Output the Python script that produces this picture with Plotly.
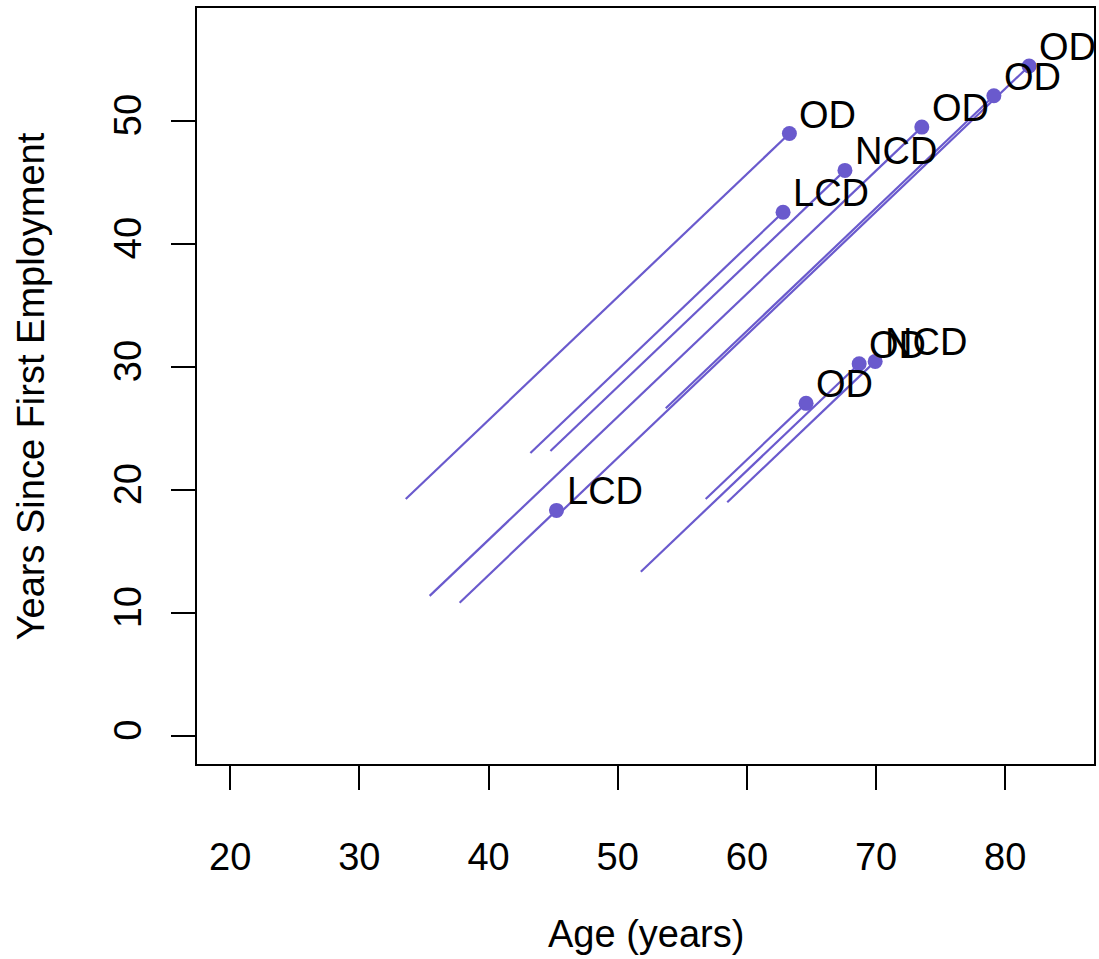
import plotly.graph_objects as go

# Follow-up segments (Lexis diagram): entry age, entry time, duration, exit status
entry_age = [33.59, 43.24, 44.79, 35.44, 37.76, 45.30, 53.72, 56.81, 51.79, 58.48]
entry_time = [19.26, 23.00, 23.16, 11.38, 10.83, 17.90, 26.63, 19.26, 13.35, 18.99]
duration = [29.70, 19.56, 22.80, 38.10, 7.50, 36.55, 25.40, 7.77, 16.90, 11.45]
status = ["OD", "LCD", "NCD", "OD", "LCD", "OD", "OD", "OD", "OD", "NCD"]

x_ticks = [20, 30, 40, 50, 60, 70, 80]
y_ticks = [0, 10, 20, 30, 40, 50]

COL = "#6A5ACD"
FONT = "Liberation Sans, Arial, Helvetica, sans-serif"
FS = 38

exit_age = [a + d for a, d in zip(entry_age, duration)]
exit_time = [t + d for t, d in zip(entry_time, duration)]

lx, ly = [], []
for a0, t0, a1, t1 in zip(entry_age, entry_time, exit_age, exit_time):
    lx += [a0, a1, None]
    ly += [t0, t1, None]

fig = go.Figure()
fig.add_trace(go.Scatter(x=lx, y=ly, mode="lines",
                         line=dict(color=COL, width=2.2), hoverinfo="skip"))
fig.add_trace(go.Scatter(x=exit_age, y=exit_time, mode="markers",
                         marker=dict(color=COL, size=15, line=dict(width=0))))

for a, t, s in zip(exit_age, exit_time, status):
    fig.add_annotation(x=a, y=t, text=s, showarrow=False, xanchor="left",
                       yanchor="middle", xshift=8, yshift=19,
                       font=dict(family=FONT, size=FS, color="black"))

fig.add_annotation(xref="paper", yref="paper", x=0.5, y=-0.225, text="Age (years)",
                   showarrow=False, xanchor="center", yanchor="middle",
                   font=dict(family=FONT, size=FS, color="black"))
fig.add_annotation(xref="paper", yref="paper", x=-0.1847, y=0.5,
                   text="Years Since First Employment", textangle=-90,
                   showarrow=False, xanchor="center", yanchor="middle",
                   font=dict(family=FONT, size=FS, color="black"))

axis_common = dict(showgrid=False, zeroline=False, showline=True, mirror=True,
                   linecolor="black", linewidth=2, ticks="outside", ticklen=24,
                   tickwidth=2, tickcolor="black",
                   tickfont=dict(family=FONT, size=FS, color="black"))

fig.update_layout(
    width=1099, height=959,
    margin=dict(l=197, r=3, t=8, b=195),
    paper_bgcolor="white", plot_bgcolor="white",
    showlegend=False,
    xaxis=dict(range=[17.43, 86.87], tickvals=x_ticks, ticklabelstandoff=34,
               **axis_common),
    yaxis=dict(range=[-2.28, 59.16], tickvals=y_ticks, tickangle=-90,
               ticklabelstandoff=15, **axis_common),
)

fig.write_html("out.html")
